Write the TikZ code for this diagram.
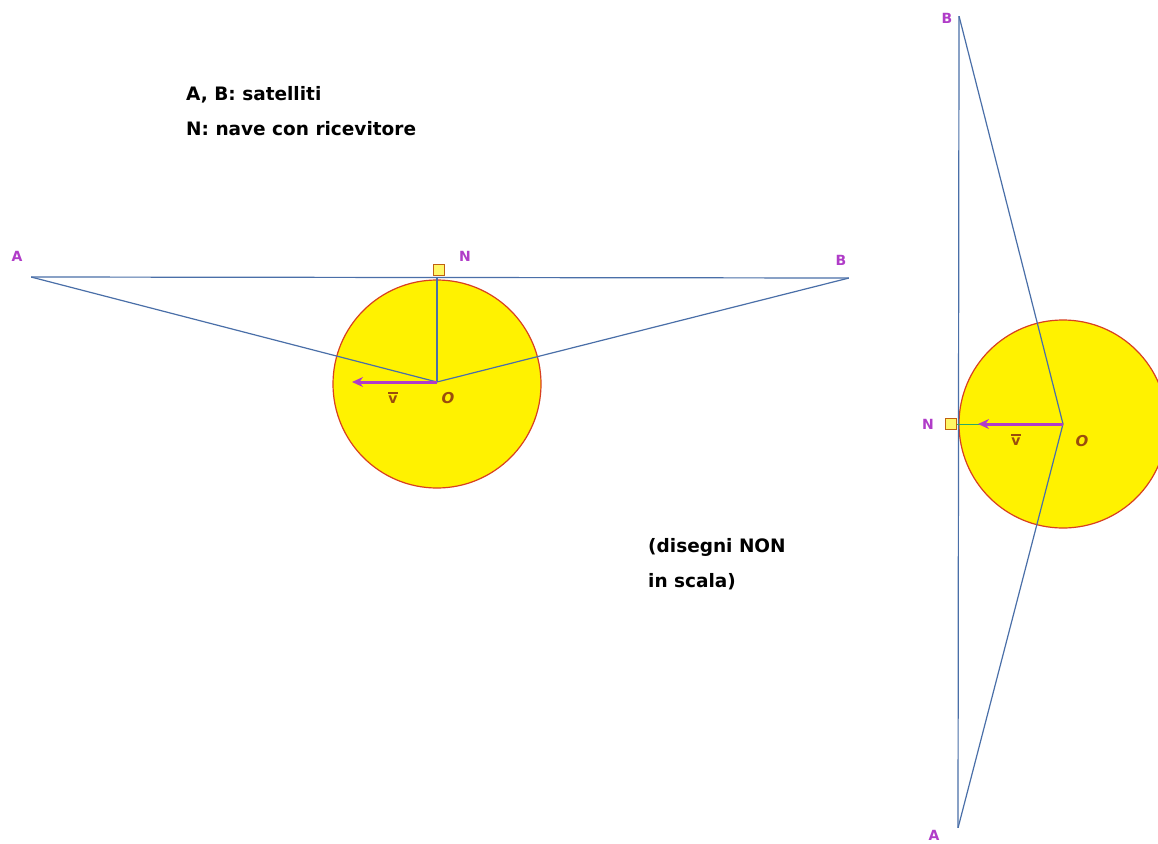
\documentclass[tikz,border=0pt]{standalone}
\usepackage{fontspec}
\setmainfont{DejaVu Sans}
\usetikzlibrary{arrows.meta}
\definecolor{lineblue}{HTML}{4A6FA8}
\definecolor{labpurple}{HTML}{B03CC8}
\definecolor{circred}{HTML}{D84020}
\definecolor{sqbrown}{HTML}{C06010}
\tikzset{
  ray/.style={draw=lineblue, line width=1.2pt},
  earth/.style={circle, draw=circred, fill=yellow, line width=1.2pt, minimum size=208pt, inner sep=0pt},
  ship/.style={draw=sqbrown, fill=yellow!60, line width=1.4pt, minimum size=11pt, inner sep=0pt},
  lab/.style={text=labpurple, font=\bfseries\fontsize{14}{14}\selectfont, inner sep=0pt},
  olab/.style={text=sqbrown!80!black, font=\itshape\bfseries\fontsize{15}{15}\selectfont, inner sep=0pt},
  vlab/.style={text=sqbrown!80!black, font=\bfseries\fontsize{14}{14}\selectfont, inner sep=0pt},
  vbar/.style={draw=sqbrown!80!black, line width=1.5pt},
  vel/.style={draw=labpurple, line width=3pt, -{Stealth[length=11pt,width=10pt]}},
  note/.style={font=\bfseries\fontsize{18.5}{35}\selectfont, anchor=west, inner sep=0pt, align=left},
  pt/.style={inner sep=0pt, minimum size=0pt}
}
\begin{document}
\begin{tikzpicture}[x=1pt,y=-1pt]
\path[use as bounding box, fill=white] (0,0) rectangle (1158,843);
% ---------- left diagram ----------
\node[earth] (E1) at (437,384) {};
\node[pt] (A1) at (31,277) {};
\node[pt] (B1) at (849,278) {};
\node[pt] (O1) at (437,382) {};
\coordinate (Top1) at (437,277);
\node[ship] (N1) at (439,270) {};
\draw[ray] (A1) -- (B1);
\draw[ray] (A1) -- (O1.center) -- (B1);
\draw[ray] (O1.center) -- (Top1);
\coordinate (V1) at (352,382);
\draw[vel] (O1.center) -- (V1);
\node[lab] (LA1) at (17,256) {A};
\node[lab] (LB1) at (841,260) {B};
\node[lab] (LN1) at (465,256) {N};
\node[olab] (LO1) at (448,398) {O};
\node[vlab] (LV1) at (393,400) {v};
\draw[vbar] ([yshift=3pt]LV1.north west) -- ([yshift=3pt]LV1.north east);
% ---------- right diagram ----------
\node[earth] (E2) at (1063,424) {};
\node[pt] (B2) at (959,16) {};
\node[pt] (A2) at (958,828) {};
\node[pt] (O2) at (1063,424) {};
\node[ship] (N2) at (951,424) {};
\draw[ray] (B2) -- (A2);
\draw[ray] (B2) -- (O2.center) -- (A2);
\draw[draw=lineblue!60!green, line width=1pt] (N2.east) -- (O2.center);
\coordinate (V2) at (978,424);
\draw[vel] (O2.center) -- (V2);
\node[lab] (LB2) at (947,18) {B};
\node[lab] (LA2) at (934,835) {A};
\node[lab] (LN2) at (928,424) {N};
\node[olab] (LO2) at (1082,441) {O};
\node[vlab] (LV2) at (1016,442) {v};
\draw[vbar] ([yshift=3pt]LV2.north west) -- ([yshift=3pt]LV2.north east);
% ---------- notes ----------
\node[note] (T1) at (186,111) {A, B: satelliti\\N: nave con ricevitore};
\node[note] (T2) at (648,564) {(disegni NON\\in scala)};
\end{tikzpicture}
\end{document}
